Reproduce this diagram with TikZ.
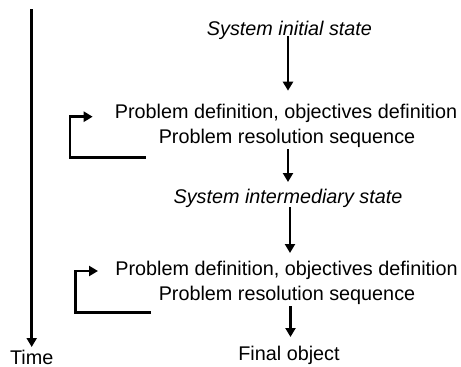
\documentclass[tikz,border=0pt]{standalone}
\usepackage{fontspec}
\setmainfont{Liberation Sans}
\usetikzlibrary{arrows.meta}
\begin{document}
\begin{tikzpicture}[x=1pt,y=-1pt,
  lbl/.style={anchor=base,inner sep=0pt,font=\fontsize{19.8}{25}\selectfont},
  ilbl/.style={lbl,font=\fontsize{19.8}{25}\selectfont\itshape},
  ln/.style={line width=2.6pt,line join=miter},
  arr/.style={ln,-{Triangle[length=9pt,width=10pt]}}]
\useasboundingbox (0,0) rectangle (461,367);
\node[ilbl] (t1) at (289.5,35) {System initial state};
\node[lbl] (p1a) at (286,118) {Problem definition, objectives definition};
\node[lbl] (p1b) at (287,143) {Problem resolution sequence};
\node[ilbl] (t2) at (288,203) {System intermediary state};
\node[lbl] (p2a) at (286.5,275) {Problem definition, objectives definition};
\node[lbl] (p2b) at (287,300) {Problem resolution sequence};
\node[lbl] (f) at (289,360) {Final object};
\node[lbl,text depth=0pt] (time) at (31.7,364.5) {Time};
\coordinate (tstart) at (31.7,9.3);
\coordinate (l1a) at (145.7,157.7);
\coordinate (l1b) at (70,116.7);
\coordinate (l1c) at (92.7,116.7);
\coordinate (l2a) at (151,312.7);
\coordinate (l2b) at (75.7,271);
\coordinate (l2c) at (98,271);
\draw[arr] (tstart) -- ([yshift=17.5pt]time.base);
\draw[arr] ([xshift=-1.5pt,yshift=-1pt]t1.base) -- ([xshift=2pt,yshift=27.3pt]p1a.base);
\draw[arr] ([xshift=1pt,yshift=-6pt]p1b.base) -- ([yshift=21pt]t2.base);
\draw[arr] ([xshift=2pt,yshift=-4pt]t2.base) -- ([xshift=3.5pt,yshift=22pt]p2a.base);
\draw[arr] ([xshift=3.5pt,yshift=-6pt]p2b.base) -- ([xshift=1.5pt,yshift=23pt]f.base);
\draw[arr] (l1a) -| (l1b) -- (l1c);
\draw[arr] (l2a) -| (l2b) -- (l2c);
\end{tikzpicture}
\end{document}
